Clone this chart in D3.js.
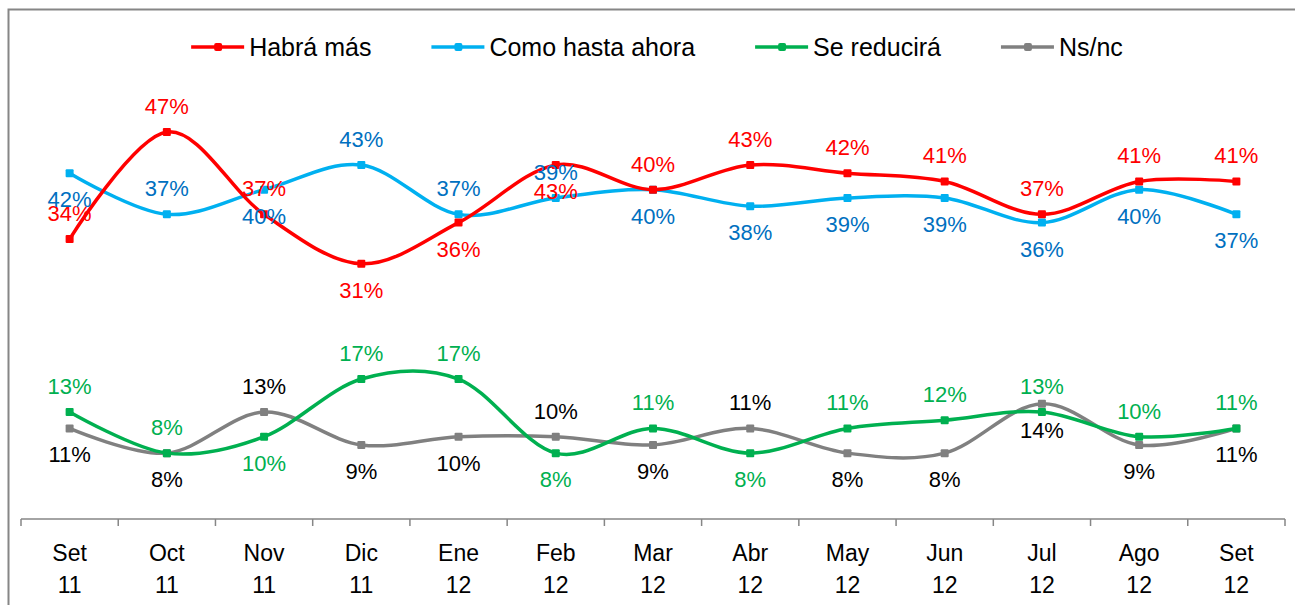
<!DOCTYPE html>
<html>
<head>
<meta charset="utf-8">
<script src="https://cdn.jsdelivr.net/npm/d3@7/dist/d3.min.js"></script>
<style>
  html, body { margin: 0; padding: 0; background: #fff; }
  svg { display: block; font-family: "Liberation Sans", Arial, sans-serif; }
</style>
</head>
<body>
<svg id="chart" width="1295" height="605"></svg>
<script>
// Monthly survey: expectation about the coming months
const months = ["Set", "Oct", "Nov", "Dic", "Ene", "Feb", "Mar", "Abr", "May", "Jun", "Jul", "Ago", "Set"];
const years  = ["11", "11", "11", "11", "12", "12", "12", "12", "12", "12", "12", "12", "12"];

const habraMas     = [34, 47, 37, 31, 36, 43, 40, 43, 42, 41, 37, 41, 41];
const comoHasta    = [42, 37, 40, 43, 37, 39, 40, 38, 39, 39, 36, 40, 37];
const seReducira   = [13, 8, 10, 17, 17, 8, 11, 8, 11, 12, 13, 10, 11];
const nsnc         = [11, 8, 13, 9, 10, 10, 9, 11, 8, 8, 14, 9, 11];

// Which side of the marker each value label sits on (1 = above, -1 = below)
const sideHabra  = [1, 1, 1, -1, -1, -1, 1, 1, 1, 1, 1, 1, 1];
const sideComo   = [-1, 1, -1, 1, 1, 1, -1, -1, -1, -1, -1, -1, -1];
const sideReduc  = [1, 1, -1, 1, 1, -1, 1, -1, 1, 1, 1, 1, 1];
const sideNsnc   = [-1, -1, 1, -1, -1, 1, -1, 1, -1, -1, -1, -1, -1];

const series = [
  { name: "Habrá más",        values: habraMas,   side: sideHabra, line: "#FF0000", label: "#FF0000" },
  { name: "Como hasta ahora", values: comoHasta,  side: sideComo,  line: "#00B0F0", label: "#0070C0" },
  { name: "Se reducirá",      values: seReducira, side: sideReduc, line: "#00B050", label: "#00B050" },
  { name: "Ns/nc",            values: nsnc,       side: sideNsnc,  line: "#808080", label: "#000000" }
];

const svg = d3.select("#chart");
const keys = months.map((m, i) => i);

const x = d3.scaleBand().domain(keys).range([21, 1285]).padding(0);
const cx = i => x(i) + x.bandwidth() / 2;
const y = d3.scaleLinear().domain([0, 60]).range([519, 25]);

// outer chart frame
svg.append("rect")
  .attr("x", 8.5).attr("y", 9.5)
  .attr("width", 1300).attr("height", 620)
  .attr("fill", "none").attr("stroke", "#868686").attr("stroke-width", 2);

// category axis with ticks at band boundaries
const axisG = svg.append("g").attr("class", "x-axis");
axisG.append("line")
  .attr("x1", x.range()[0]).attr("x2", x.range()[1])
  .attr("y1", y(0)).attr("y2", y(0))
  .attr("stroke", "#868686").attr("stroke-width", 1.5);
const edges = keys.map(i => x(i)).concat([x.range()[1]]);
axisG.selectAll("line.tick").data(edges).enter().append("line")
  .attr("class", "tick")
  .attr("x1", d => d).attr("x2", d => d)
  .attr("y1", y(0)).attr("y2", y(0) + 7)
  .attr("stroke", "#868686").attr("stroke-width", 1.5);
const catText = axisG.selectAll("text").data(keys).enter().append("text")
  .attr("text-anchor", "middle")
  .attr("font-size", 23)
  .attr("fill", "#000");
catText.append("tspan").attr("x", d => cx(d)).attr("y", 561).text(d => months[d]);
catText.append("tspan").attr("x", d => cx(d)).attr("y", 593).text(d => years[d]);

// smoothed lines
const line = d3.line()
  .x((d, i) => cx(i))
  .y(d => y(d))
  .curve(d3.curveCardinal.tension(0));

const gLines = svg.append("g");
series.slice().reverse().forEach(s => {
  const g = gLines.append("g");
  g.append("path")
    .attr("d", line(s.values))
    .attr("fill", "none")
    .attr("stroke", s.line)
    .attr("stroke-width", 3.5)
    .attr("stroke-linejoin", "round");
  g.selectAll("rect").data(s.values).enter().append("rect")
    .attr("x", (d, i) => cx(i) - 4)
    .attr("y", d => y(d) - 4)
    .attr("width", 8).attr("height", 8)
    .attr("rx", 1)
    .attr("fill", s.line);
});

// value labels
const gLabels = svg.append("g");
series.forEach(s => {
  gLabels.selectAll(null).data(s.values).enter().append("text")
    .attr("x", (d, i) => cx(i))
    .attr("y", (d, i) => y(d) - s.side[i] * 26 + 8)
    .attr("text-anchor", "middle")
    .attr("font-size", 22)
    .attr("fill", s.label)
    .text(d => d + "%");
});

// legend
const legend = svg.append("g");
const items = [];
series.forEach(s => {
  const it = legend.append("g");
  it.append("line").attr("x1", 0).attr("x2", 53).attr("y1", 0).attr("y2", 0)
    .attr("stroke", s.line).attr("stroke-width", 3.5);
  it.append("rect").attr("x", 23).attr("y", -4).attr("width", 8).attr("height", 8)
    .attr("rx", 2).attr("fill", s.line);
  const t = it.append("text").attr("x", 58).attr("y", 9)
    .attr("font-size", 25).attr("fill", "#000").text(s.name);
  const w = 58 + t.node().getComputedTextLength();
  items.push({ g: it, w });
});
const gap = 60;
const total = d3.sum(items, d => d.w) + gap * (items.length - 1);
let start = 657 - total / 2;
items.forEach(d => {
  d.g.attr("transform", `translate(${start},47)`);
  start += d.w + gap;
});
</script>
</body>
</html>
